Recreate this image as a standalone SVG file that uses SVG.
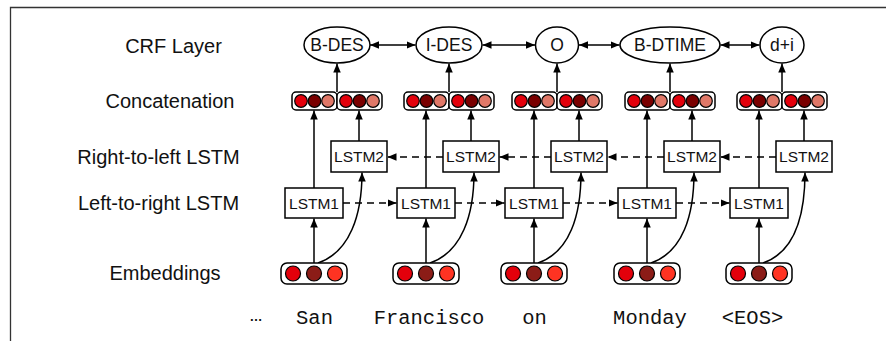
<svg xmlns="http://www.w3.org/2000/svg" width="886" height="341" viewBox="0 0 886 341">
<defs>
<style>
.lbl{font-family:"Liberation Sans",Arial,sans-serif;font-size:20px;fill:#111;text-anchor:middle}
.crf{font-family:"Liberation Sans",Arial,sans-serif;font-size:17.5px;fill:#111;text-anchor:middle}
.lt{font-family:"Liberation Sans",Arial,sans-serif;font-size:15.5px;fill:#111;text-anchor:middle}
.word{font-family:"Liberation Mono","Courier New",monospace;font-size:20.5px;fill:#111;text-anchor:middle}
.box{fill:#fff;stroke:#000;stroke-width:1.5}
.ell{fill:#fff;stroke:#000;stroke-width:1.5}
.hold{fill:#fff;stroke:#000;stroke-width:1.5}
.dot{stroke:#000;stroke-width:1.2}
.c1{fill:#e3000b}.c2{fill:#7a0000}.c3{fill:#e07868}
.e1{fill:#e3000b}.e2{fill:#8b1c17}.e3{fill:#ff3322}
.ln{fill:none;stroke:#000;stroke-width:1.5;marker-end:url(#ah)}
.dl{fill:none;stroke:#000;stroke-width:1.5;stroke-dasharray:7 5;marker-end:url(#ah)}
.dbl{fill:none;stroke:#000;stroke-width:1.5;marker-start:url(#ahs);marker-end:url(#ah)}
</style>
<marker id="ah" markerUnits="userSpaceOnUse" markerWidth="10" markerHeight="8" refX="9" refY="3.75" orient="auto"><path d="M0,0 L9,3.75 L0,7.5 z" fill="#000"/></marker>
<marker id="ahs" markerUnits="userSpaceOnUse" markerWidth="10" markerHeight="8" refX="9" refY="3.75" orient="auto-start-reverse"><path d="M0,0 L9,3.75 L0,7.5 z" fill="#000"/></marker>
</defs>
<rect width="886" height="341" fill="#fff"/>
<path d="M10.5,341 L10.5,7.5 L886,7.5" fill="none" stroke="#333" stroke-width="1.3"/>

<g id="labels">
<text class="lbl" x="173.5" y="53">CRF Layer</text>
<text class="lbl" x="170" y="108">Concatenation</text>
<text class="lbl" x="158.5" y="164">Right-to-left LSTM</text>
<text class="lbl" x="158.5" y="210">Left-to-right LSTM</text>
<text class="lbl" x="165" y="280">Embeddings</text>
</g>

<g id="connectors">
<line class="dbl" x1="370" y1="45" x2="415.5" y2="45"/>
<line class="dbl" x1="482.5" y1="45" x2="535" y2="45"/>
<line class="dbl" x1="579" y1="45" x2="619.5" y2="45"/>
<line class="dbl" x1="720.5" y1="45" x2="759.5" y2="45"/>
<line class="ln" x1="337" y1="92" x2="337" y2="63.5"/>
<line class="ln" x1="449" y1="92" x2="449" y2="63.5"/>
<line class="ln" x1="557" y1="92" x2="557" y2="63.5"/>
<line class="ln" x1="670" y1="92" x2="670" y2="63.5"/>
<line class="ln" x1="782" y1="92" x2="782" y2="63.5"/>
<line class="ln" x1="314" y1="188" x2="314" y2="110.5"/>
<line class="ln" x1="426" y1="188" x2="426" y2="110.5"/>
<line class="ln" x1="534" y1="188" x2="534" y2="110.5"/>
<line class="ln" x1="647" y1="188" x2="647" y2="110.5"/>
<line class="ln" x1="759" y1="188" x2="759" y2="110.5"/>
<line class="ln" x1="359" y1="141" x2="359" y2="110.5"/>
<line class="ln" x1="471" y1="141" x2="471" y2="110.5"/>
<line class="ln" x1="579" y1="141" x2="579" y2="110.5"/>
<line class="ln" x1="692" y1="141" x2="692" y2="110.5"/>
<line class="ln" x1="804" y1="141" x2="804" y2="110.5"/>
<line class="ln" x1="314" y1="263" x2="314" y2="218.5"/>
<line class="ln" x1="426" y1="263" x2="426" y2="218.5"/>
<line class="ln" x1="534" y1="263" x2="534" y2="218.5"/>
<line class="ln" x1="647" y1="263" x2="647" y2="218.5"/>
<line class="ln" x1="759" y1="263" x2="759" y2="218.5"/>
<path class="ln" d="M318,263 C350,252 362,215 362,172.5"/>
<path class="ln" d="M430,263 C462,252 474,215 474,172.5"/>
<path class="ln" d="M538,263 C570,252 581,215 581,172.5"/>
<path class="ln" d="M651,263 C683,252 694,215 694,172.5"/>
<path class="ln" d="M763,263 C795,252 805,215 805,172.5"/>
<line class="dl" x1="343" y1="203" x2="396.5" y2="203"/>
<line class="dl" x1="455" y1="203" x2="504.5" y2="203"/>
<line class="dl" x1="563" y1="203" x2="617.5" y2="203"/>
<line class="dl" x1="676" y1="203" x2="729.5" y2="203"/>
<line class="dl" x1="443" y1="157" x2="387.5" y2="157"/>
<line class="dl" x1="551" y1="157" x2="499.5" y2="157"/>
<line class="dl" x1="664" y1="157" x2="607.5" y2="157"/>
<line class="dl" x1="776" y1="157" x2="720.5" y2="157"/>
</g>

<g id="col1">
<g id="crf1"><ellipse class="ell" cx="337" cy="45" rx="33" ry="18"/><text class="crf" x="337" y="51">B-DES</text></g>
<g id="concat1">
<rect class="hold" x="292" y="92" width="45" height="18" rx="4"/><rect class="hold" x="337" y="92" width="45" height="18" rx="4"/>
<circle class="dot c1" cx="301" cy="101" r="6.3"/><circle class="dot c2" cx="314.5" cy="101" r="6.3"/><circle class="dot c3" cx="328" cy="101" r="6.3"/>
<circle class="dot c1" cx="346" cy="101" r="6.3"/><circle class="dot c2" cx="359.5" cy="101" r="6.3"/><circle class="dot c3" cx="373" cy="101" r="6.3"/>
</g>
<g id="lstm2_1"><rect class="box" x="331" y="141" width="56" height="31"/><text class="lt" x="359" y="162">LSTM2</text></g>
<g id="lstm1_1"><rect class="box" x="285" y="188" width="58" height="30"/><text class="lt" x="314" y="208.5">LSTM1</text></g>
<g id="emb1"><rect class="hold" x="281" y="263" width="66" height="21" rx="6"/>
<circle class="dot e1" cx="293" cy="273.5" r="7.5"/><circle class="dot e2" cx="314" cy="273.5" r="7.5"/><circle class="dot e3" cx="335" cy="273.5" r="7.5"/></g>
</g>

<g id="col2">
<g id="crf2"><ellipse class="ell" cx="449" cy="45" rx="33" ry="18"/><text class="crf" x="449" y="51">I-DES</text></g>
<g id="concat2">
<rect class="hold" x="404" y="92" width="45" height="18" rx="4"/><rect class="hold" x="449" y="92" width="45" height="18" rx="4"/>
<circle class="dot c1" cx="413" cy="101" r="6.3"/><circle class="dot c2" cx="426.5" cy="101" r="6.3"/><circle class="dot c3" cx="440" cy="101" r="6.3"/>
<circle class="dot c1" cx="458" cy="101" r="6.3"/><circle class="dot c2" cx="471.5" cy="101" r="6.3"/><circle class="dot c3" cx="485" cy="101" r="6.3"/>
</g>
<g id="lstm2_2"><rect class="box" x="443" y="141" width="56" height="31"/><text class="lt" x="471" y="162">LSTM2</text></g>
<g id="lstm1_2"><rect class="box" x="397" y="188" width="58" height="30"/><text class="lt" x="426" y="208.5">LSTM1</text></g>
<g id="emb2"><rect class="hold" x="393" y="263" width="66" height="21" rx="6"/>
<circle class="dot e1" cx="405" cy="273.5" r="7.5"/><circle class="dot e2" cx="426" cy="273.5" r="7.5"/><circle class="dot e3" cx="447" cy="273.5" r="7.5"/></g>
</g>

<g id="col3">
<g id="crf3"><ellipse class="ell" cx="557" cy="45" rx="21.5" ry="18"/><text class="crf" x="557" y="51">O</text></g>
<g id="concat3">
<rect class="hold" x="512" y="92" width="45" height="18" rx="4"/><rect class="hold" x="557" y="92" width="45" height="18" rx="4"/>
<circle class="dot c1" cx="521" cy="101" r="6.3"/><circle class="dot c2" cx="534.5" cy="101" r="6.3"/><circle class="dot c3" cx="548" cy="101" r="6.3"/>
<circle class="dot c1" cx="566" cy="101" r="6.3"/><circle class="dot c2" cx="579.5" cy="101" r="6.3"/><circle class="dot c3" cx="593" cy="101" r="6.3"/>
</g>
<g id="lstm2_3"><rect class="box" x="551" y="141" width="56" height="31"/><text class="lt" x="579" y="162">LSTM2</text></g>
<g id="lstm1_3"><rect class="box" x="505" y="188" width="58" height="30"/><text class="lt" x="534" y="208.5">LSTM1</text></g>
<g id="emb3"><rect class="hold" x="501" y="263" width="66" height="21" rx="6"/>
<circle class="dot e1" cx="513" cy="273.5" r="7.5"/><circle class="dot e2" cx="534" cy="273.5" r="7.5"/><circle class="dot e3" cx="555" cy="273.5" r="7.5"/></g>
</g>

<g id="col4">
<g id="crf4"><ellipse class="ell" cx="670" cy="45" rx="50" ry="18"/><text class="crf" x="670" y="51">B-DTIME</text></g>
<g id="concat4">
<rect class="hold" x="625" y="92" width="45" height="18" rx="4"/><rect class="hold" x="670" y="92" width="45" height="18" rx="4"/>
<circle class="dot c1" cx="634" cy="101" r="6.3"/><circle class="dot c2" cx="647.5" cy="101" r="6.3"/><circle class="dot c3" cx="661" cy="101" r="6.3"/>
<circle class="dot c1" cx="679" cy="101" r="6.3"/><circle class="dot c2" cx="692.5" cy="101" r="6.3"/><circle class="dot c3" cx="706" cy="101" r="6.3"/>
</g>
<g id="lstm2_4"><rect class="box" x="664" y="141" width="56" height="31"/><text class="lt" x="692" y="162">LSTM2</text></g>
<g id="lstm1_4"><rect class="box" x="618" y="188" width="58" height="30"/><text class="lt" x="647" y="208.5">LSTM1</text></g>
<g id="emb4"><rect class="hold" x="614" y="263" width="66" height="21" rx="6"/>
<circle class="dot e1" cx="626" cy="273.5" r="7.5"/><circle class="dot e2" cx="647" cy="273.5" r="7.5"/><circle class="dot e3" cx="668" cy="273.5" r="7.5"/></g>
</g>

<g id="col5">
<g id="crf5"><ellipse class="ell" cx="782" cy="45" rx="22" ry="18"/><text class="crf" x="782" y="51">d+i</text></g>
<g id="concat5">
<rect class="hold" x="737" y="92" width="45" height="18" rx="4"/><rect class="hold" x="782" y="92" width="45" height="18" rx="4"/>
<circle class="dot c1" cx="746" cy="101" r="6.3"/><circle class="dot c2" cx="759.5" cy="101" r="6.3"/><circle class="dot c3" cx="773" cy="101" r="6.3"/>
<circle class="dot c1" cx="791" cy="101" r="6.3"/><circle class="dot c2" cx="804.5" cy="101" r="6.3"/><circle class="dot c3" cx="818" cy="101" r="6.3"/>
</g>
<g id="lstm2_5"><rect class="box" x="776" y="141" width="56" height="31"/><text class="lt" x="804" y="162">LSTM2</text></g>
<g id="lstm1_5"><rect class="box" x="730" y="188" width="58" height="30"/><text class="lt" x="759" y="208.5">LSTM1</text></g>
<g id="emb5"><rect class="hold" x="726" y="263" width="66" height="21" rx="6"/>
<circle class="dot e1" cx="738" cy="273.5" r="7.5"/><circle class="dot e2" cx="759" cy="273.5" r="7.5"/><circle class="dot e3" cx="780" cy="273.5" r="7.5"/></g>
</g>

<g id="words">
<text x="256" y="321" style="font-family:'Liberation Sans',Arial,sans-serif;font-size:13px;font-weight:bold;fill:#111;text-anchor:middle">…</text>
<text class="word" x="314.5" y="324">San</text>
<text class="word" x="429" y="324">Francisco</text>
<text class="word" x="534.5" y="324">on</text>
<text class="word" x="650" y="324">Monday</text>
<text class="word" x="752.5" y="324">&lt;EOS&gt;</text>
</g>
</svg>
